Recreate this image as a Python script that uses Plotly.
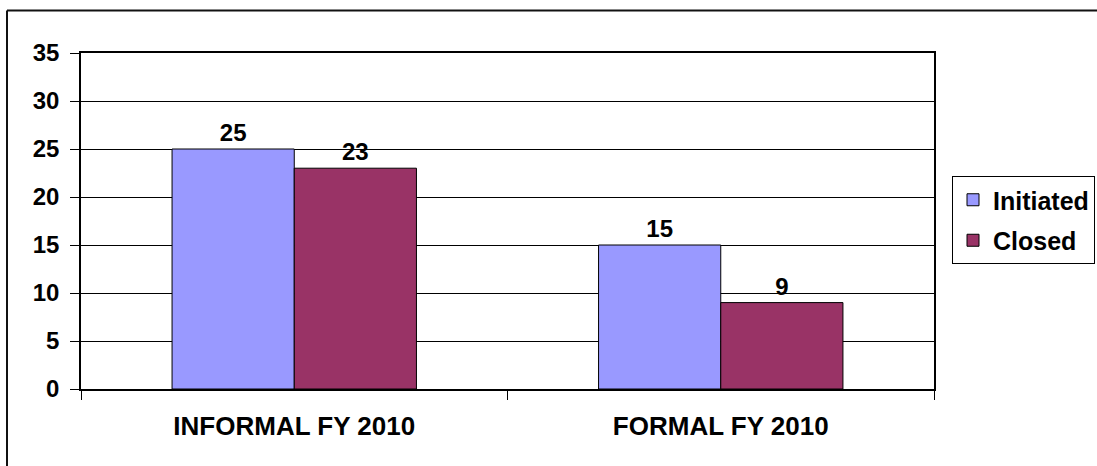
import plotly.graph_objects as go

categories = ["INFORMAL FY 2010", "FORMAL FY 2010"]
initiated = [25, 15]
closed = [23, 9]
y_ticks = [0, 5, 10, 15, 20, 25, 30, 35]

FONT = "Liberation Sans, Arial, sans-serif"

fig = go.Figure()
fig.add_trace(go.Bar(
    name="Initiated", x=categories, y=initiated, legendgroup="a",
    marker=dict(color="#9999FF", line=dict(color="black", width=1)),
    text=initiated, textposition="outside", cliponaxis=False,
    textfont=dict(family=FONT, size=24, color="black", weight="bold"),
))
fig.add_trace(go.Bar(
    name="Closed", x=categories, y=closed, legendgroup="b",
    marker=dict(color="#993366", line=dict(color="black", width=1)),
    text=closed, textposition="outside", cliponaxis=False,
    textfont=dict(family=FONT, size=24, color="black", weight="bold"),
))

L, R, T, B = 81, 163, 53, 77
W, H = 1097, 466
pw = W - L - R
ph = H - T - B

def px(x):
    return (x - L) / pw

def py(y):
    return (H - B - y) / ph

fig.update_layout(
    width=W, height=H,
    margin=dict(l=L, r=R, t=T, b=B, pad=0, autoexpand=False),
    paper_bgcolor="white", plot_bgcolor="white",
    barmode="group", bargap=0.427, bargroupgap=0,
    font=dict(family=FONT, color="black"),
    showlegend=True,
    legend=dict(
        x=px(952), y=py(220), xanchor="left", yanchor="middle",
        bgcolor="white", bordercolor="black", borderwidth=1,
        font=dict(family=FONT, size=25, color="black", weight="bold"),
        traceorder="grouped", tracegroupgap=5,
    ),
    xaxis=dict(
        showline=True, linecolor="black", linewidth=1.5, mirror=True,
        ticks="outside", tickson="boundaries", ticklen=9, tickcolor="black", tickwidth=1,
        tickfont=dict(family=FONT, size=26, color="black", weight="bold"),
        ticklabelstandoff=13, showgrid=False,
    ),
    yaxis=dict(
        range=[0, 35], tickvals=y_ticks,
        showline=True, linecolor="black", linewidth=1.5, mirror=True,
        ticks="outside", ticklen=9, tickcolor="black", tickwidth=1,
        tickfont=dict(family=FONT, size=24, color="black", weight="bold"),
        ticklabelstandoff=6,
        showgrid=True, gridcolor="black", gridwidth=1, zeroline=False,
    ),
    shapes=[
        dict(type="line", xref="paper", yref="paper",
             x0=px(7), x1=px(7), y0=py(470), y1=py(10.5),
             line=dict(color="#111111", width=2)),
        dict(type="line", xref="paper", yref="paper",
             x0=px(7), x1=px(1100), y0=py(10.5), y1=py(10.5),
             line=dict(color="#111111", width=2)),
    ],
)

fig.write_html("out.html", config={"displayModeBar": False},
               post_script="document.body.style.margin='0';")
